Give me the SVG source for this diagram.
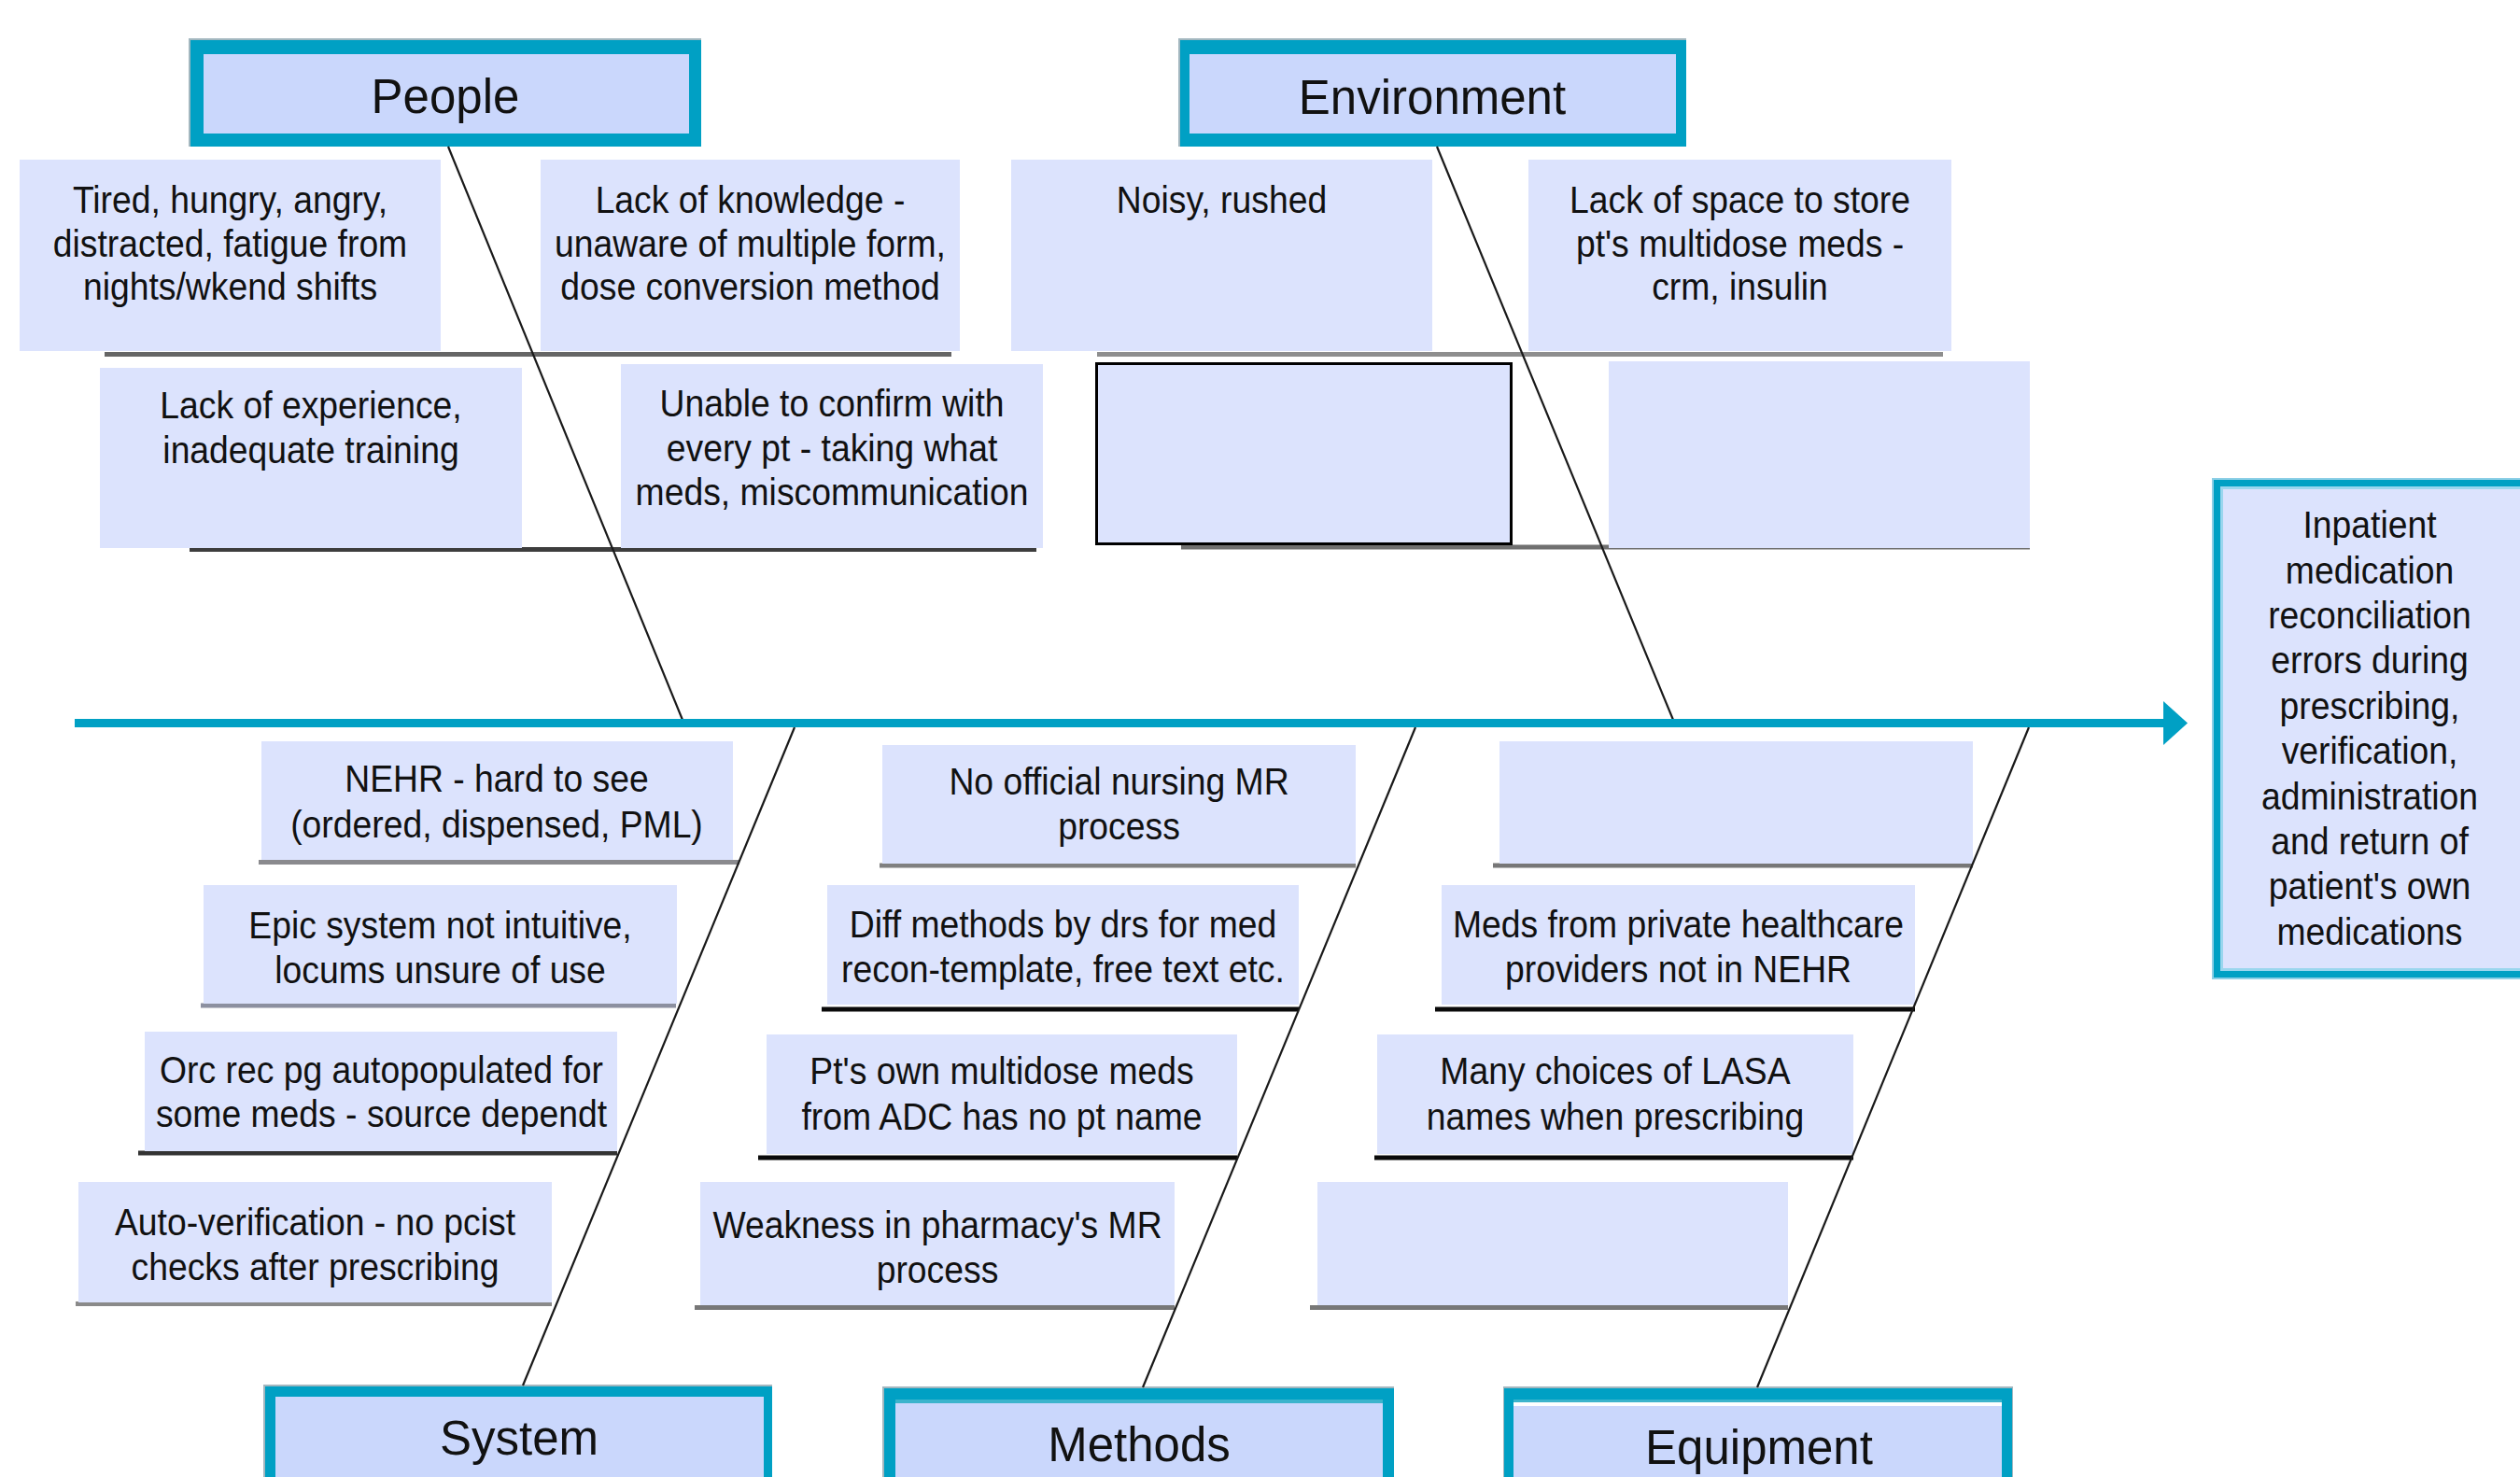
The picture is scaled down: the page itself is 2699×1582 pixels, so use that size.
<svg xmlns="http://www.w3.org/2000/svg" width="2699" height="1582" viewBox="0 0 2699 1582">
<style>
.bg{fill:#ffffff}
.box{fill:#DCE3FD}
.hin{fill:#CAD7FC}
.teal{fill:#00A0C4}
.edge{fill:#A3B7BF}
.t{font-family:"Liberation Sans",Arial,sans-serif;font-size:41px;fill:#111111;text-anchor:middle}
.h{font-family:"Liberation Sans",Arial,sans-serif;font-size:51px;fill:#111111;text-anchor:middle}
.diag{stroke:#1a1a1a;stroke-width:2.2;fill:none}
.sep{stroke-width:5;fill:none}
</style>
<rect class="bg" x="0" y="0" width="2699" height="1582"/>

<g id="separators">
<line class="sep" x1="112" y1="379.5" x2="1019" y2="379.5" stroke="#666666"/>
<line class="sep" x1="203" y1="588.5" x2="1110" y2="588.5" stroke="#3d3d3d"/>
<line class="sep" x1="1175" y1="379.5" x2="2081" y2="379.5" stroke="#8e8e8e"/>
<line class="sep" x1="1265" y1="586" x2="2174" y2="586" stroke="#707070"/>
<line class="sep" x1="277" y1="923.5" x2="792" y2="923.5" stroke="#8a8a8e"/>
<line class="sep" x1="215" y1="1077" x2="724" y2="1077" stroke="#8c90a0"/>
<line class="sep" x1="148" y1="1235" x2="661" y2="1235" stroke="#333333"/>
<line class="sep" x1="81" y1="1396.5" x2="591" y2="1396.5" stroke="#8a8a8a"/>
<line class="sep" x1="942" y1="927" x2="1452" y2="927" stroke="#808080"/>
<line class="sep" x1="880" y1="1081" x2="1391" y2="1081" stroke="#0a0a0a"/>
<line class="sep" x1="812" y1="1240" x2="1325" y2="1240" stroke="#0a0a0a"/>
<line class="sep" x1="744" y1="1400.5" x2="1258" y2="1400.5" stroke="#777777"/>
<line class="sep" x1="1599" y1="927" x2="2113" y2="927" stroke="#777777"/>
<line class="sep" x1="1537" y1="1081" x2="2051" y2="1081" stroke="#0a0a0a"/>
<line class="sep" x1="1472" y1="1240" x2="1985" y2="1240" stroke="#0a0a0a"/>
<line class="sep" x1="1403" y1="1400.5" x2="1915" y2="1400.5" stroke="#777777"/>
</g>

<g id="head-people">
<rect class="edge" x="202" y="41" width="549" height="116"/>
<rect class="teal" x="204" y="43" width="547" height="114"/>
<rect class="hin" x="218" y="58" width="520" height="85"/>
<text class="h" x="477" y="121">People</text>
</g>
<g id="head-environment">
<rect class="edge" x="1262" y="41" width="544" height="116"/>
<rect class="teal" x="1264" y="43" width="542" height="114"/>
<rect class="hin" x="1274" y="58" width="521" height="85"/>
<text class="h" x="1534" y="122">Environment</text>
</g>
<g id="head-system">
<rect class="edge" x="282" y="1483" width="545" height="110"/>
<rect class="teal" x="284" y="1485" width="543" height="110"/>
<rect class="hin" x="295" y="1496" width="523" height="100"/>
<text class="h" x="556" y="1558">System</text>
</g>
<g id="head-methods">
<rect class="edge" x="945" y="1485" width="548" height="110"/>
<rect class="teal" x="947" y="1487" width="546" height="110"/>
<rect x="959" y="1499" width="522" height="4" fill="#3cb4cc"/>
<rect class="hin" x="959" y="1503" width="522" height="100"/>
<text class="h" x="1220" y="1565">Methods</text>
</g>
<g id="head-equipment">
<rect class="edge" x="1610" y="1485" width="546" height="110"/>
<rect class="teal" x="1611" y="1487" width="544" height="110"/>
<rect x="1621" y="1499" width="523" height="3" fill="#3cb4cc"/>
<rect x="1621" y="1502" width="523" height="4" fill="#ffffff"/>
<rect class="hin" x="1621" y="1506" width="523" height="100"/>
<text class="h" x="1884" y="1568">Equipment</text>
</g>

<g id="effect">
<rect x="2369" y="512" width="345" height="537" fill="#8ccfe6"/>
<rect class="teal" x="2371" y="514" width="341" height="533"/>
<rect x="2378" y="521" width="327" height="519" fill="#9ad6ee"/>
<rect class="box" x="2381" y="524" width="321" height="513"/>
<text class="t" transform="translate(2538 0) scale(0.91 1)"><tspan x="0" y="576">Inpatient</tspan><tspan x="0" y="625">medication</tspan><tspan x="0" y="673">reconciliation</tspan><tspan x="0" y="721">errors during</tspan><tspan x="0" y="770">prescribing,</tspan><tspan x="0" y="818">verification,</tspan><tspan x="0" y="867">administration</tspan><tspan x="0" y="915">and return of</tspan><tspan x="0" y="963">patient's own</tspan><tspan x="0" y="1012">medications</tspan></text>
</g>

<g id="c-tired">
<rect class="box" x="21" y="171" width="451" height="205"/>
<text class="t" transform="translate(246.5 0) scale(0.91 1)"><tspan x="0" y="228">Tired, hungry, angry,</tspan><tspan x="0" y="275">distracted, fatigue from</tspan><tspan x="0" y="321">nights/wkend shifts</tspan></text>
</g>
<g id="c-knowledge">
<rect class="box" x="579" y="171" width="449" height="205"/>
<text class="t" transform="translate(803.5 0) scale(0.91 1)"><tspan x="0" y="228">Lack of knowledge -</tspan><tspan x="0" y="275">unaware of multiple form,</tspan><tspan x="0" y="321">dose conversion method</tspan></text>
</g>
<g id="c-experience">
<rect class="box" x="107" y="394" width="452" height="193"/>
<text class="t" transform="translate(333 0) scale(0.91 1)"><tspan x="0" y="448">Lack of experience,</tspan><tspan x="0" y="496">inadequate training</tspan></text>
</g>
<g id="c-unable">
<rect class="box" x="665" y="390" width="452" height="197"/>
<text class="t" transform="translate(891 0) scale(0.91 1)"><tspan x="0" y="446">Unable to confirm with</tspan><tspan x="0" y="494">every pt - taking what</tspan><tspan x="0" y="541">meds, miscommunication</tspan></text>
</g>
<g id="c-noisy">
<rect class="box" x="1083" y="171" width="451" height="205"/>
<text class="t" transform="translate(1308.5 0) scale(0.91 1)"><tspan x="0" y="228">Noisy, rushed</tspan></text>
</g>
<g id="c-space">
<rect class="box" x="1637" y="171" width="453" height="205"/>
<text class="t" transform="translate(1863.5 0) scale(0.91 1)"><tspan x="0" y="228">Lack of space to store</tspan><tspan x="0" y="275">pt's multidose meds -</tspan><tspan x="0" y="321">crm, insulin</tspan></text>
</g>
<g id="c-empty-env1">
<rect class="box" x="1174.5" y="389.5" width="444" height="193" stroke="#000000" stroke-width="3"/>
</g>
<g id="c-empty-env2">
<rect class="box" x="1723" y="387" width="451" height="200"/>
</g>

<g id="c-nehr">
<rect class="box" x="280" y="794" width="505" height="127"/>
<text class="t" transform="translate(532 0) scale(0.91 1)"><tspan x="0" y="848">NEHR - hard to see</tspan><tspan x="0" y="897">(ordered, dispensed, PML)</tspan></text>
</g>
<g id="c-epic">
<rect class="box" x="218" y="948" width="507" height="127"/>
<text class="t" transform="translate(471.5 0) scale(0.91 1)"><tspan x="0" y="1005">Epic system not intuitive,</tspan><tspan x="0" y="1053">locums unsure of use</tspan></text>
</g>
<g id="c-orc">
<rect class="box" x="155" y="1105" width="506" height="128"/>
<text class="t" transform="translate(408.5 0) scale(0.91 1)"><tspan x="0" y="1160">Orc rec pg autopopulated for</tspan><tspan x="0" y="1207">some meds - source dependt</tspan></text>
</g>
<g id="c-auto">
<rect class="box" x="84" y="1266" width="507" height="129"/>
<text class="t" transform="translate(337.5 0) scale(0.91 1)"><tspan x="0" y="1323">Auto-verification - no pcist</tspan><tspan x="0" y="1371">checks after prescribing</tspan></text>
</g>
<g id="c-nursing">
<rect class="box" x="945" y="798" width="507" height="127"/>
<text class="t" transform="translate(1198.5 0) scale(0.91 1)"><tspan x="0" y="851">No official nursing MR</tspan><tspan x="0" y="899">process</tspan></text>
</g>
<g id="c-diff">
<rect class="box" x="886" y="948" width="505" height="128"/>
<text class="t" transform="translate(1138.5 0) scale(0.91 1)"><tspan x="0" y="1004">Diff methods by drs for med</tspan><tspan x="0" y="1052">recon-template, free text etc.</tspan></text>
</g>
<g id="c-ptsown">
<rect class="box" x="821" y="1108" width="504" height="128"/>
<text class="t" transform="translate(1073 0) scale(0.91 1)"><tspan x="0" y="1161">Pt's own multidose meds</tspan><tspan x="0" y="1210">from ADC has no pt name</tspan></text>
</g>
<g id="c-weakness">
<rect class="box" x="750" y="1266" width="508" height="132"/>
<text class="t" transform="translate(1004 0) scale(0.91 1)"><tspan x="0" y="1326">Weakness in pharmacy's MR</tspan><tspan x="0" y="1374">process</tspan></text>
</g>
<g id="c-empty-eq1">
<rect class="box" x="1606" y="794" width="507" height="131"/>
</g>
<g id="c-meds">
<rect class="box" x="1544" y="948" width="507" height="128"/>
<text class="t" transform="translate(1797.5 0) scale(0.91 1)"><tspan x="0" y="1004">Meds from private healthcare</tspan><tspan x="0" y="1052">providers not in NEHR</tspan></text>
</g>
<g id="c-lasa">
<rect class="box" x="1475" y="1108" width="510" height="128"/>
<text class="t" transform="translate(1730 0) scale(0.91 1)"><tspan x="0" y="1161">Many choices of LASA</tspan><tspan x="0" y="1210">names when prescribing</tspan></text>
</g>
<g id="c-empty-eq2">
<rect class="box" x="1411" y="1266" width="504" height="132"/>
</g>

<g id="connectors">
<line class="diag" x1="480" y1="157" x2="731" y2="771"/>
<line class="diag" x1="1539" y1="157" x2="1792" y2="771"/>
<line class="diag" x1="560" y1="1484" x2="851" y2="779"/>
<line class="diag" x1="1224" y1="1486" x2="1516" y2="779"/>
<line class="diag" x1="1882" y1="1486" x2="2173" y2="779"/>
<line x1="80" y1="774.5" x2="2320" y2="774.5" stroke="#00A0C4" stroke-width="9"/>
<polygon points="2317,751 2343,774.5 2317,798" fill="#00A0C4"/>
</g>
</svg>
